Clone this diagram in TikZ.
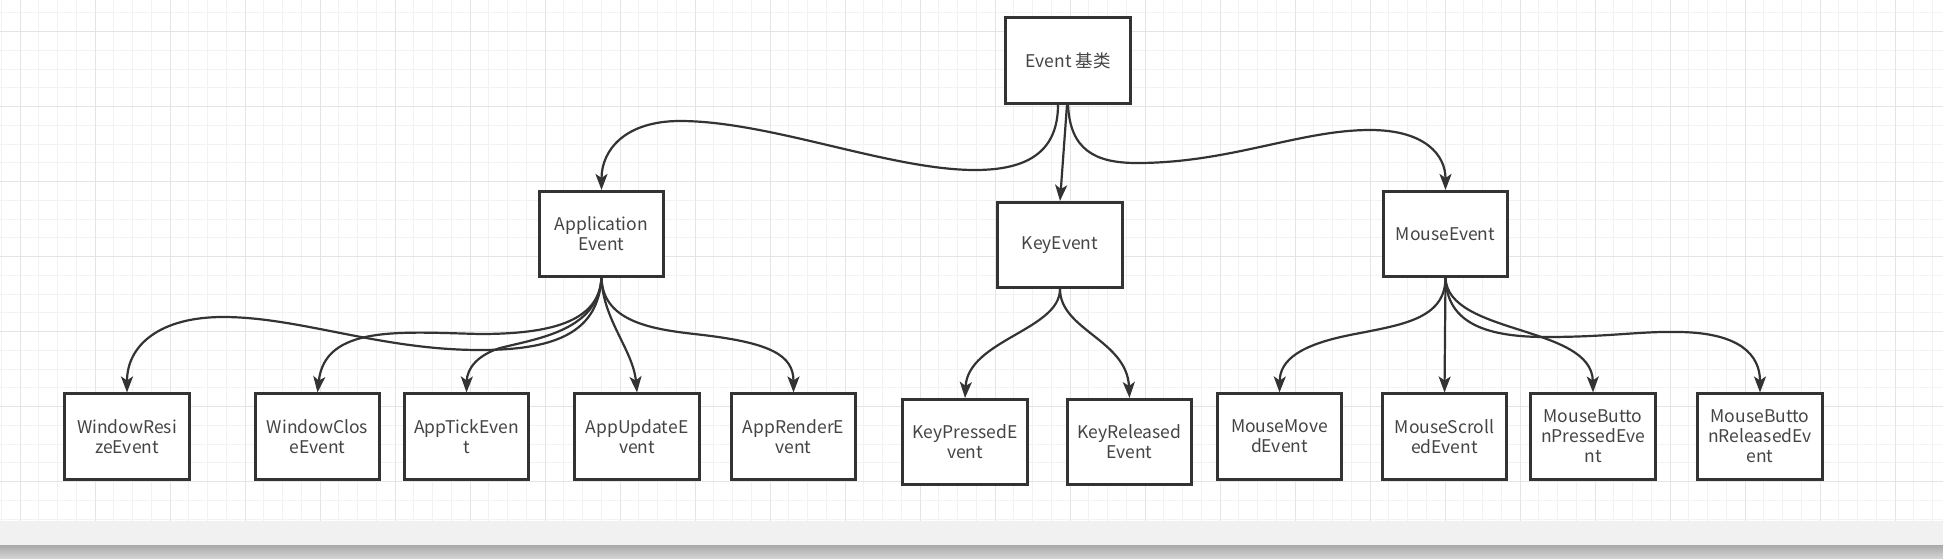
\documentclass[tikz,border=0pt]{standalone}
\usepackage{fontspec}
\setmainfont{Noto Sans CJK SC}
\usetikzlibrary{arrows.meta}
\definecolor{ink}{HTML}{333333}
\definecolor{txt}{HTML}{444444}
\definecolor{gridminor}{HTML}{F2F2F2}
\definecolor{gridmajor}{HTML}{E4E4E4}
\definecolor{band}{HTML}{F1F1F1}
\definecolor{shadowtop}{HTML}{ABABAB}
\definecolor{shadowbot}{HTML}{D3D3D3}
\begin{document}
\begin{tikzpicture}[x=1pt,y=-1pt,
  box/.style={draw=ink, line width=2.6pt, fill=white, minimum width=124.5pt, minimum height=85.5pt,
    inner sep=0pt, align=center, text=txt, font=\fontsize{17.5pt}{20pt}\selectfont},
  edge/.style={draw=ink, line width=2.2pt, -{Stealth[length=16pt,width=12pt,inset=4pt]}},
  gmin/.style={draw=gridminor, line width=1pt},
  gmaj/.style={draw=gridmajor, line width=1pt}]
\useasboundingbox (0,0) rectangle (1943,558);
\fill[white] (0,0) rectangle (1943,520.7);
% grid
\foreach \k in {0,...,103} \draw[gmin] ({1.25+18.75*\k},0) -- ({1.25+18.75*\k},520.7);
\foreach \k in {0,...,27} \draw[gmin] (0,{12.95+18.75*\k}) -- (1943,{12.95+18.75*\k});
\foreach \k in {0,...,25} \draw[gmaj] ({20+75*\k},0) -- ({20+75*\k},520.7);
\foreach \k in {0,...,6} \draw[gmaj] (0,{31.7+75*\k}) -- (1943,{31.7+75*\k});
% bottom band
\fill[band] (0,520.7) rectangle (1943,545.7);
\shade[top color=shadowtop, bottom color=shadowbot] (0,545.7) rectangle (1943,558);

% nodes
\node[box] (E) at (1068,60.5) {Event 基类};
\node[box] (A) at (601.5,234) {Application\\Event};
\node[box] (K) at (1060,245) {KeyEvent};
\node[box] (M) at (1445.5,234) {MouseEvent};
\node[box] (WR) at (127,436.5) {WindowResi\\zeEvent};
\node[box] (WC) at (317.5,436.5) {WindowClos\\eEvent};
\node[box] (AT) at (466.5,436.5) {AppTickEven\\t};
\node[box] (AU) at (637,436.5) {AppUpdateE\\vent};
\node[box] (AR) at (793.5,436.5) {AppRenderE\\vent};
\node[box] (KP) at (965,442) {KeyPressedE\\vent};
\node[box] (KR) at (1129.5,442) {KeyReleased\\Event};
\node[box] (MM) at (1279.5,436.5) {MouseMove\\dEvent};
\node[box] (MS) at (1444.5,436.5) {MouseScroll\\edEvent};
\node[box] (MBP) at (1593,436.5) {MouseButto\\nPressedEve\\nt};
\node[box] (MBR) at (1760,436.5) {MouseButto\\nReleasedEv\\ent};

% Event -> level 1
\draw[edge] ([xshift=-10pt]E.south) .. controls (1058,150) and (1030,170) .. (975,170)
  .. controls (890,170) and (770,121) .. (680,121)
  .. controls (625,121) and (601.5,150) .. (A.north);
\draw[edge] ([xshift=-1pt]E.south) -- (K.north);
\draw[edge] (E.south) .. controls (1070,150) and (1095,163) .. (1137,163)
  .. controls (1230,163) and (1300,130) .. (1370,130)
  .. controls (1425,130) and (1445.5,155) .. (M.north);

% Application -> children
\draw[edge] (A.south) .. controls (598,330) and (560,350) .. (480,350)
  .. controls (380,350) and (300,317) .. (223,317)
  .. controls (160,317) and (127,345) .. (WR.north);
\draw[edge] (A.south) .. controls (599,322) and (550,334) .. (480,334)
  .. controls (400,332) and (325,325) .. (WC.north);
\draw[edge] (A.south) .. controls (598,330) and (540,338) .. (500,348)
  .. controls (478,355) and (467,368) .. (AT.north);
\draw[edge] (A.south) .. controls (603,320) and (633,350) .. (AU.north);
\draw[edge] (A.south) .. controls (603,325) and (660,330) .. (703,335)
  .. controls (770,343) and (793.5,355) .. (AR.north);

% KeyEvent -> children
\draw[edge] (K.south) .. controls (1060,330) and (968,340) .. (KP.north);
\draw[edge] (K.south) .. controls (1060,330) and (1127,340) .. (KR.north);

% MouseEvent -> children
\draw[edge] (M.south) .. controls (1445,320) and (1400,325) .. (1350,335)
  .. controls (1300,345) and (1280,360) .. (MM.north);
\draw[edge] (M.south) -- (MS.north);
\draw[edge] (M.south) .. controls (1448,335) and (1592,325) .. (MBP.north);
\draw[edge] (M.south) .. controls (1447,320) and (1480,337) .. (1546,337)
  .. controls (1610,337) and (1640,331) .. (1680,332)
  .. controls (1740,333) and (1760,355) .. (MBR.north);
\end{tikzpicture}
\end{document}
